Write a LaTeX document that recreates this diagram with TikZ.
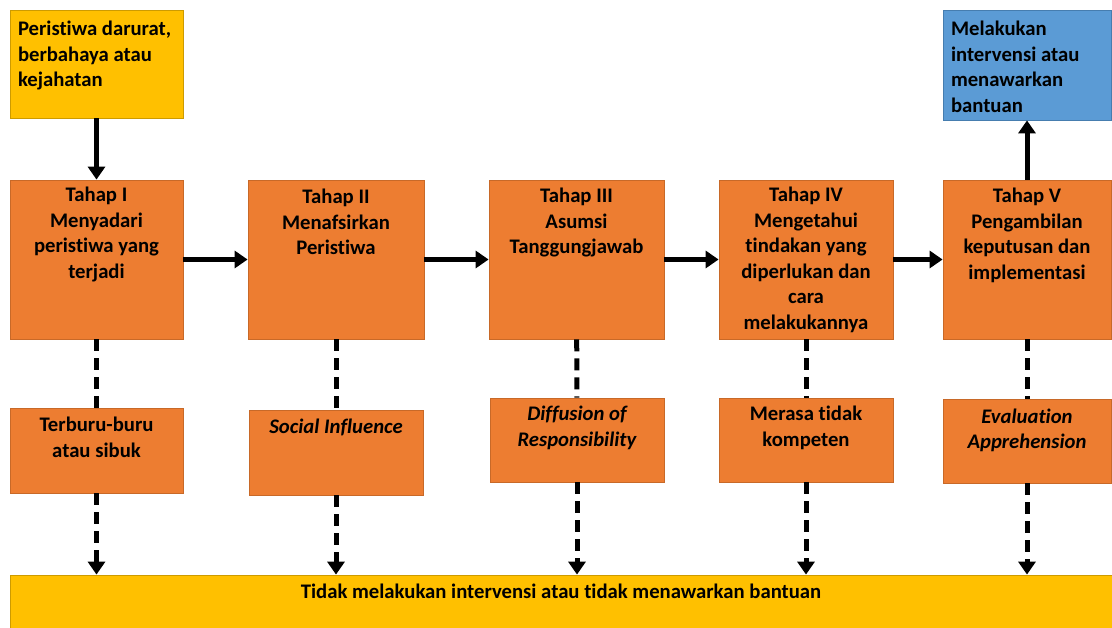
\documentclass[tikz,border=0pt]{standalone}
\usepackage{fontspec}
\setmainfont{Carlito}[Ligatures=NoCommon]
\usetikzlibrary{arrows.meta}

\definecolor{stageorange}{RGB}{237,125,49}
\definecolor{stageedge}{RGB}{200,105,40}
\definecolor{startyellow}{RGB}{255,192,0}
\definecolor{startedge}{RGB}{205,155,0}
\definecolor{finishblue}{RGB}{91,155,213}
\definecolor{finishedge}{RGB}{70,125,175}

% width, height, first baseline, text
\newcommand{\cell}[4]{\parbox[c][#2pt][t]{#1pt}{\rule{0pt}{#3pt}#4}}

\begin{document}
\begin{tikzpicture}[x=1pt, y=-1pt,
    font=\fontsize{20.7}{25.5}\selectfont\bfseries,
    stage/.style={draw=stageedge, fill=stageorange, line width=0.8pt, inner sep=0pt},
    start/.style={draw=startedge, fill=startyellow, line width=0.8pt, inner sep=0pt},
    finish/.style={draw=finishedge, fill=finishblue, line width=0.8pt, inner sep=0pt},
    flow/.style={line width=5pt, -{Triangle[length=13pt,width=17pt]}},
    block/.style={line width=5pt, dash pattern=on 12pt off 7pt},
    blockflow/.style={block, -{Triangle[length=13pt,width=17pt]}}
]
\useasboundingbox (0,0) rectangle (1112,628);

% start and end
\node[start] (event) at (96.5,64) {\cell{173}{108}{26}{\raggedright\leftskip=8pt Peristiwa darurat,\\ berbahaya atau\\ kejahatan}};
\node[finish] (help) at (1027,65) {\cell{168}{110}{26}{\raggedright\leftskip=8pt Melakukan\\ intervensi atau\\ menawarkan\\ bantuan}};

% stages
\node[stage] (s1) at (96.5,259.5) {\cell{173}{159}{22}{\centering Tahap I\\ Menyadari\\ peristiwa yang\\ terjadi}};
\node[stage] (s2) at (336,259.5) {\cell{176}{159}{24}{\centering Tahap II\\ Menafsirkan\\ Peristiwa}};
\node[stage] (s3) at (576.5,259.5) {\cell{175}{159}{23}{\centering Tahap III\\ Asumsi\\ Tanggungjawab}};
\node[stage] (s4) at (806,259.5) {\cell{174}{159}{22}{\centering Tahap IV\\ Mengetahui\\ tindakan yang\\ diperlukan dan\\ cara\\ melakukannya}};
\node[stage] (s5) at (1027,259.5) {\cell{168}{159}{23}{\centering Tahap V\\ Pengambilan\\ keputusan dan\\ implementasi}};

% barriers
\node[stage] (b1) at (96.5,450.5) {\cell{173}{85}{24}{\centering Terburu-buru\\ atau sibuk}};
\node[stage] (b2) at (336,452.5) {\cell{174}{85}{24}{\centering\itshape Social Influence}};
\node[stage] (b3) at (577,440) {\cell{174}{84}{23}{\centering\itshape Diffusion of\\ Responsibility}};
\node[stage] (b4) at (806,440) {\cell{174}{84}{23}{\centering Merasa tidak\\ kompeten}};
\node[stage] (b5) at (1027,441) {\cell{168}{84}{24}{\centering\itshape Evaluation\\ Apprehension}};

\node[start] (none) at (561,601.5) {\cell{1102}{53}{23}{\centering Tidak melakukan intervensi atau tidak menawarkan bantuan}};

\draw[flow] (event) -- (s1);
\draw[flow] (s1) -- (s2);
\draw[flow] (s2) -- (s3);
\draw[flow] (s3) -- (s4);
\draw[flow] (s4) -- (s5);
\draw[flow] (s5) -- (help);

\foreach \i in {1,...,5}{
  \draw[block] (s\i) -- (b\i);
  \draw[blockflow] (b\i) -- (b\i |- none.north);
}

\end{tikzpicture}
\end{document}
